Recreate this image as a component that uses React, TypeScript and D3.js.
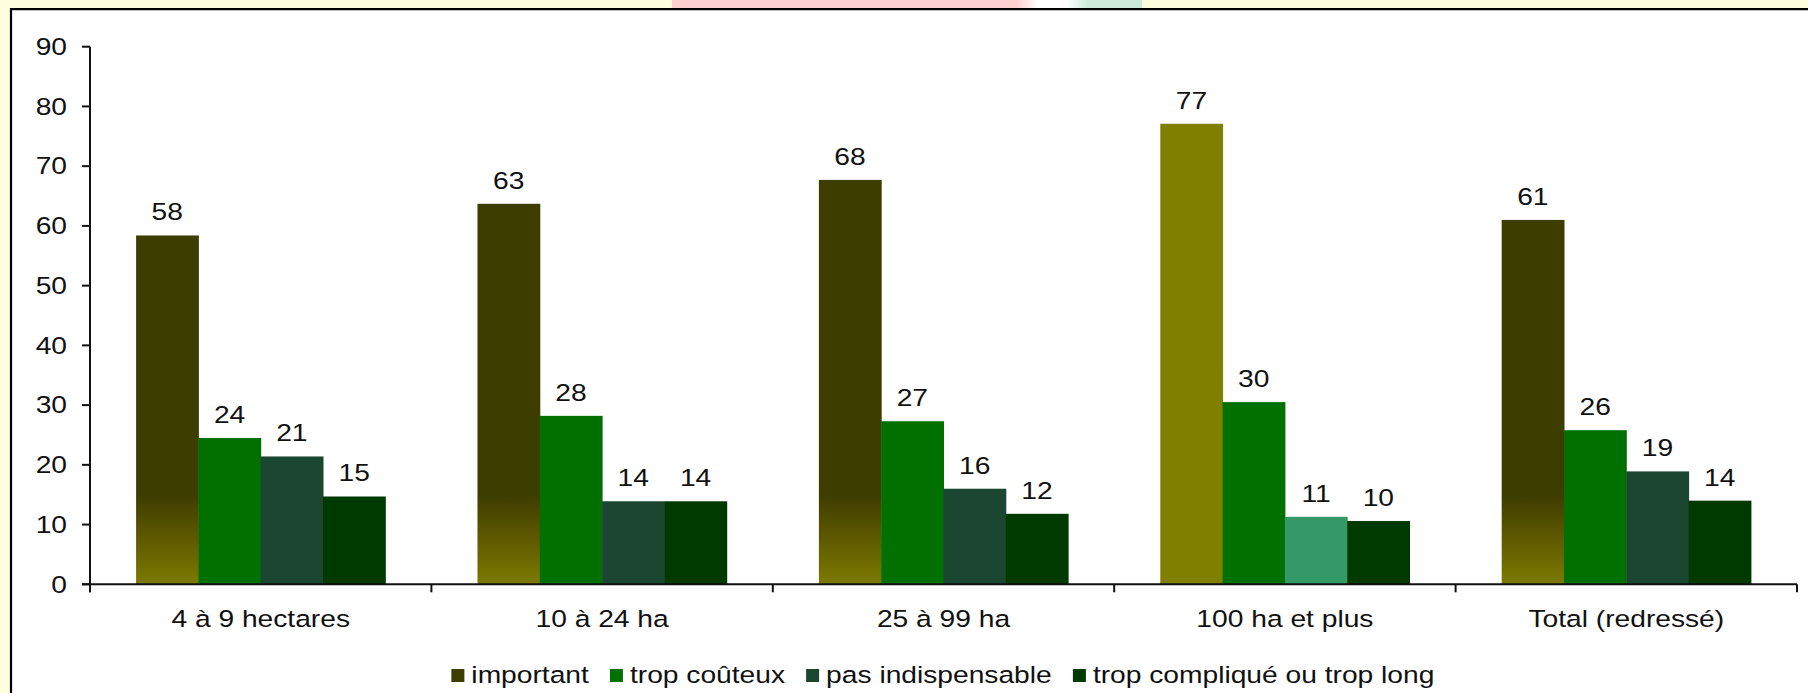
import React from "react";
import * as d3 from "d3";

const categories = ["4 à 9 hectares", "10 à 24 ha", "25 à 99 ha", "100 ha et plus", "Total (redressé)"];
const seriesNames = ["important", "trop coûteux", "pas indispensable", "trop compliqué ou trop long"];
const important = [58.4, 63.7, 67.7, 77.1, 61.0];
const tropCouteux = [24.5, 28.2, 27.3, 30.5, 25.8];
const pasIndispensable = [21.4, 13.9, 16.0, 11.3, 18.9];
const tropComplique = [14.7, 13.9, 11.8, 10.6, 14.0];
const importantLabels = ["58", "63", "68", "77", "61"];
const tropCouteuxLabels = ["24", "28", "27", "30", "26"];
const pasIndispensableLabels = ["21", "14", "16", "11", "19"];
const tropCompliqueLabels = ["15", "14", "12", "10", "14"];
const yTicks = [0, 10, 20, 30, 40, 50, 60, 70, 80, 90];

const seriesValues = [important, tropCouteux, pasIndispensable, tropComplique];
const seriesLabels = [importantLabels, tropCouteuxLabels, pasIndispensableLabels, tropCompliqueLabels];
const seriesColors = ["#3D3D00", "#007000", "#1B4631", "#003A00"];

const W = 1808;
const H = 693;
const FONT = "'Liberation Sans', Arial, sans-serif";
const FS = 23.5;
const SX = 1.2;
const LSX = 1.2;

function measure(text: string): number {
  if (typeof document === "undefined") return text.length * 12;
  const c = document.createElement("canvas");
  const ctx = c.getContext("2d");
  if (!ctx) return text.length * 12;
  ctx.font = `${FS}px 'Liberation Sans', Arial, sans-serif`;
  return ctx.measureText(text).width;
}

export default function App() {
  const left = 90;
  const right = 1797;
  const y = d3.scaleLinear().domain([0, 90]).range([584.3, 46.7]);
  const x0 = d3
    .scaleBand<string>()
    .domain(categories)
    .range([left, right])
    .paddingInner(0.27)
    .paddingOuter(0.135);
  const x1 = d3
    .scaleBand<string>()
    .domain(seriesNames)
    .range([0, x0.bandwidth()])
    .padding(0);
  const step = x0.step();

  const fillFor = (si: number, ci: number) => {
    if (si === 0) return ci === 3 ? "#808000" : "url(#impGrad)";
    if (si === 2 && ci === 3) return "#339966";
    return seriesColors[si];
  };

  // legend layout
  const sq = 13;
  const gapSqText = 7;
  const gapItems = 21;
  const legendTextWidths = seriesNames.map((n) => measure(n) * LSX);
  const legendTotal =
    legendTextWidths.reduce((a, b) => a + b, 0) +
    seriesNames.length * (sq + gapSqText) +
    (seriesNames.length - 1) * gapItems;
  let lx = 943 - legendTotal / 2;
  const legendItems = seriesNames.map((n, i) => {
    const item = { name: n, x: lx, color: seriesColors[i] };
    lx += sq + gapSqText + legendTextWidths[i] + gapItems;
    return item;
  });

  return (
    <svg
      width={W}
      height={H}
      style={{ position: "absolute", left: 0, top: 0 }}
      fontFamily={FONT}
    >
      <defs>
        <linearGradient id="impGrad" gradientUnits="userSpaceOnUse" x1="0" x2="0" y1={y(15)} y2={y(0)}>
          <stop offset="0" stopColor="#3D3D00" />
          <stop offset="0.45" stopColor="#5C5700" />
          <stop offset="1" stopColor="#7D7A00" />
        </linearGradient>
        <linearGradient id="topGrad" x1="0" x2="1" y1="0" y2="0">
          <stop offset="0" stopColor="#FFD0D0" />
          <stop offset="0.3" stopColor="#FFFFFF" />
          <stop offset="0.7" stopColor="#FFFFFF" />
          <stop offset="1" stopColor="#CCEBDB" />
        </linearGradient>
      </defs>
      <rect x={0} y={0} width={W} height={H} fill="#FFFFE0" />
      <rect x={672} y={0} width={345} height={9} fill="#FFD0D0" />
      <rect x={1017} y={0} width={71} height={9} fill="url(#topGrad)" />
      <rect x={1088} y={0} width={54} height={9} fill="#CCEBDB" />
      <rect x={11} y={9} width={W - 11} height={H - 9} fill="#FFFFFF" />
      <line x1={11} x2={11} y1={8} y2={H} stroke="#000" strokeWidth={2.2} />
      <line x1={10} x2={W} y1={9.2} y2={9.2} stroke="#000" strokeWidth={2.2} />

      {/* bars */}
      {categories.map((c, ci) => (
        <g key={c} transform={`translate(${x0(c)},0)`}>
          {seriesNames.map((s, si) => {
            const v = seriesValues[si][ci];
            const bx = x1(s)!;
            return (
              <g key={s}>
                <rect
                  x={bx}
                  y={y(v)}
                  width={x1.bandwidth() + 0.5}
                  height={y(0) - y(v)}
                  fill={fillFor(si, ci)}
                />
                <text
                  transform={`translate(${bx + x1.bandwidth() / 2},${y(v) - 15}) scale(${SX},1)`}
                  textAnchor="middle"
                  fontSize={FS}
                  fill="#111"
                >
                  {seriesLabels[si][ci]}
                </text>
              </g>
            );
          })}
        </g>
      ))}

      {/* y axis */}
      <line x1={left} x2={left} y1={y(90)} y2={y(0) + 8} stroke="#111" strokeWidth={2} />
      {yTicks.map((t) => (
        <g key={t}>
          <line x1={left - 8} x2={left} y1={y(t)} y2={y(t)} stroke="#111" strokeWidth={2} />
          <text
            transform={`translate(67,${y(t) + 8.2}) scale(${SX},1)`}
            textAnchor="end"
            fontSize={FS}
            fill="#111"
          >
            {t}
          </text>
        </g>
      ))}

      {/* x axis */}
      <line x1={left - 8} x2={right} y1={y(0)} y2={y(0)} stroke="#111" strokeWidth={2} />
      {d3.range(categories.length + 1).map((i) => (
        <line
          key={i}
          x1={left + i * step}
          x2={left + i * step}
          y1={y(0)}
          y2={y(0) + 8}
          stroke="#111"
          strokeWidth={2}
        />
      ))}
      {categories.map((c) => (
        <text
          key={c}
          transform={`translate(${x0(c)! + x0.bandwidth() / 2},627) scale(${SX},1)`}
          textAnchor="middle"
          fontSize={FS}
          fill="#111"
        >
          {c}
        </text>
      ))}

      {/* legend */}
      {legendItems.map((it) => (
        <g key={it.name}>
          <rect x={it.x} y={669} width={sq} height={sq} fill={it.color} />
          <text
            transform={`translate(${it.x + sq + gapSqText},683) scale(${LSX},1)`}
            fontSize={FS}
            fill="#111"
          >
            {it.name}
          </text>
        </g>
      ))}
    </svg>
  );
}
